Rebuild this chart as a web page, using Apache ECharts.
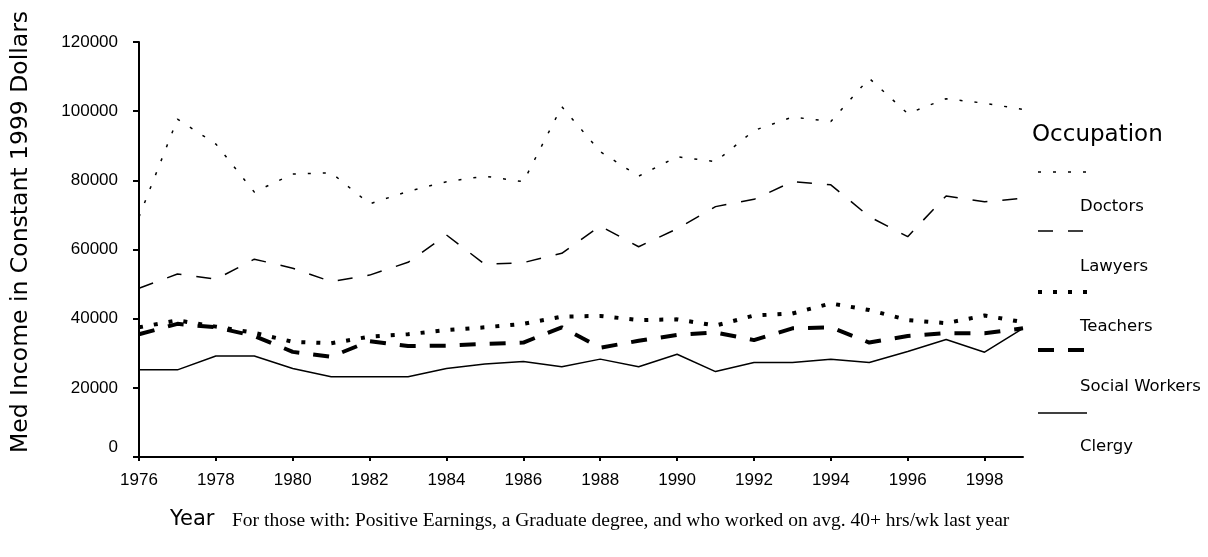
<!DOCTYPE html>
<html>
<head>
<meta charset="utf-8">
<script src="https://cdn.jsdelivr.net/npm/echarts@6/dist/echarts.min.js"></script>
<style>html,body{margin:0;padding:0;background:#fff}#c{width:1208px;height:557px}</style>
</head>
<body>
<div id="c"></div>
<script>
const years = [1976,1977,1978,1979,1980,1981,1982,1983,1984,1985,1986,1987,1988,1989,1990,1991,1992,1993,1994,1995,1996,1997,1998,1999];
const xTickLabels = [1976,1978,1980,1982,1984,1986,1988,1990,1992,1994,1996,1998];
const seriesNames = ['Doctors','Lawyers','Teachers','Social Workers','Clergy'];
const doctors = [69400,97700,90500,76600,81800,82200,73200,76800,79600,81200,79600,101300,88300,81200,86800,85400,94400,98300,97000,109500,99300,103600,102300,100500];
const lawyers = [48800,52900,51400,57200,54600,50700,52600,56300,64200,55700,56200,58900,66800,60800,66000,72400,74500,79600,78700,69500,63700,75500,73800,74800];
const teachers = [37500,39500,37700,35900,33300,32900,34800,35500,36700,37500,38500,40600,40800,39600,39800,38000,40900,41500,44400,42500,39600,38700,40900,39000];
const socialWorkers = [35500,38500,37500,35000,30400,29000,33500,32100,32200,32700,33100,37500,31600,33600,35300,36000,33800,37200,37500,33100,35000,35800,35800,37200];
const clergy = [25200,25200,29200,29200,25600,23200,23200,23200,25600,26900,27600,26100,28300,26100,29700,24700,27300,27300,28300,27300,30500,34000,30300,37200];

const allData = [doctors, lawyers, teachers, socialWorkers, clergy];
const styles = [
  {width: 1.5, type: [3, 12]},
  {width: 1.5, type: [15, 15]},
  {width: 4, type: [4, 11]},
  {width: 4, type: [16, 14]},
  {width: 1.5, type: 'solid'}
];
const pixFont = 'DejaVu Sans';
const tickFont = 'Liberation Sans';

const series = allData.map((d, i) => ({
  name: seriesNames[i],
  type: 'line',
  data: d.map((v, j) => [years[j], v]),
  showSymbol: false,
  symbol: 'none',
  silent: true,
  lineStyle: {color: '#000', width: styles[i].width, type: styles[i].type, cap: 'butt'},
  z: 5 - i
}));

const legendLineY = [172, 231, 292, 350, 413];
const legendTextY = [207, 267, 327, 387, 447];
const graphics = [];
graphics.push({type: 'text', left: 1032, top: 124, style: {text: 'Occupation', font: '23px "' + pixFont + '"', fill: '#000'}});
seriesNames.forEach((n, i) => {
  graphics.push({type: 'line', shape: {x1: 1038, y1: legendLineY[i], x2: 1087, y2: legendLineY[i]},
    style: {stroke: '#000', lineWidth: styles[i].width, lineDash: styles[i].type === 'solid' ? null : styles[i].type}});
  graphics.push({type: 'text', x: 1080, y: legendTextY[i], style: {text: n, font: '16.5px "' + pixFont + '"', fill: '#000', textVerticalAlign: 'middle'}});
});
graphics.push({type: 'text', x: 21, y: 232, rotation: Math.PI / 2,
  style: {text: 'Med Income in Constant 1999 Dollars', font: '23.5px "' + pixFont + '"', fill: '#000', textAlign: 'center', textVerticalAlign: 'middle'}});
graphics.push({type: 'text', x: 170, y: 520, style: {text: 'Year', font: '21px "' + pixFont + '"', fill: '#000', textVerticalAlign: 'middle'}});
graphics.push({type: 'text', x: 232, y: 521, style: {text: 'For those with: Positive Earnings, a Graduate degree, and who worked on avg. 40+ hrs/wk last year', font: '19.5px "Liberation Serif"', fill: '#000', textVerticalAlign: 'middle'}});

const chart = echarts.init(document.getElementById('c'), null, {renderer: 'canvas'});
chart.setOption({
  animation: false,
  backgroundColor: '#fff',
  grid: {left: 139, right: 185, top: 42, bottom: 100, containLabel: false},
  xAxis: {
    type: 'value', min: 1976, max: 1999, interval: 2,
    axisLine: {lineStyle: {color: '#000', width: 2}},
    axisTick: {show: true, length: 4, lineStyle: {color: '#000', width: 2}, customValues: xTickLabels},
    axisLabel: {color: '#000', fontFamily: tickFont, fontSize: 17, margin: 15, customValues: xTickLabels, formatter: v => String(v)},
    splitLine: {show: false}
  },
  yAxis: {
    type: 'value', min: 0, max: 120000, interval: 20000,
    axisLine: {show: true, lineStyle: {color: '#000', width: 2}},
    axisTick: {show: true, length: 6, lineStyle: {color: '#000', width: 2}},
    axisLabel: {color: '#000', fontFamily: tickFont, fontSize: 17, margin: 21,
      formatter: v => v === 0 ? '{z|0}' : String(v),
      rich: {z: {fontFamily: tickFont, fontSize: 17, color: '#000', padding: [0, 0, 20, 0]}}},
    splitLine: {show: false}
  },
  series: series,
  graphic: graphics
});
</script>
</body>
</html>
